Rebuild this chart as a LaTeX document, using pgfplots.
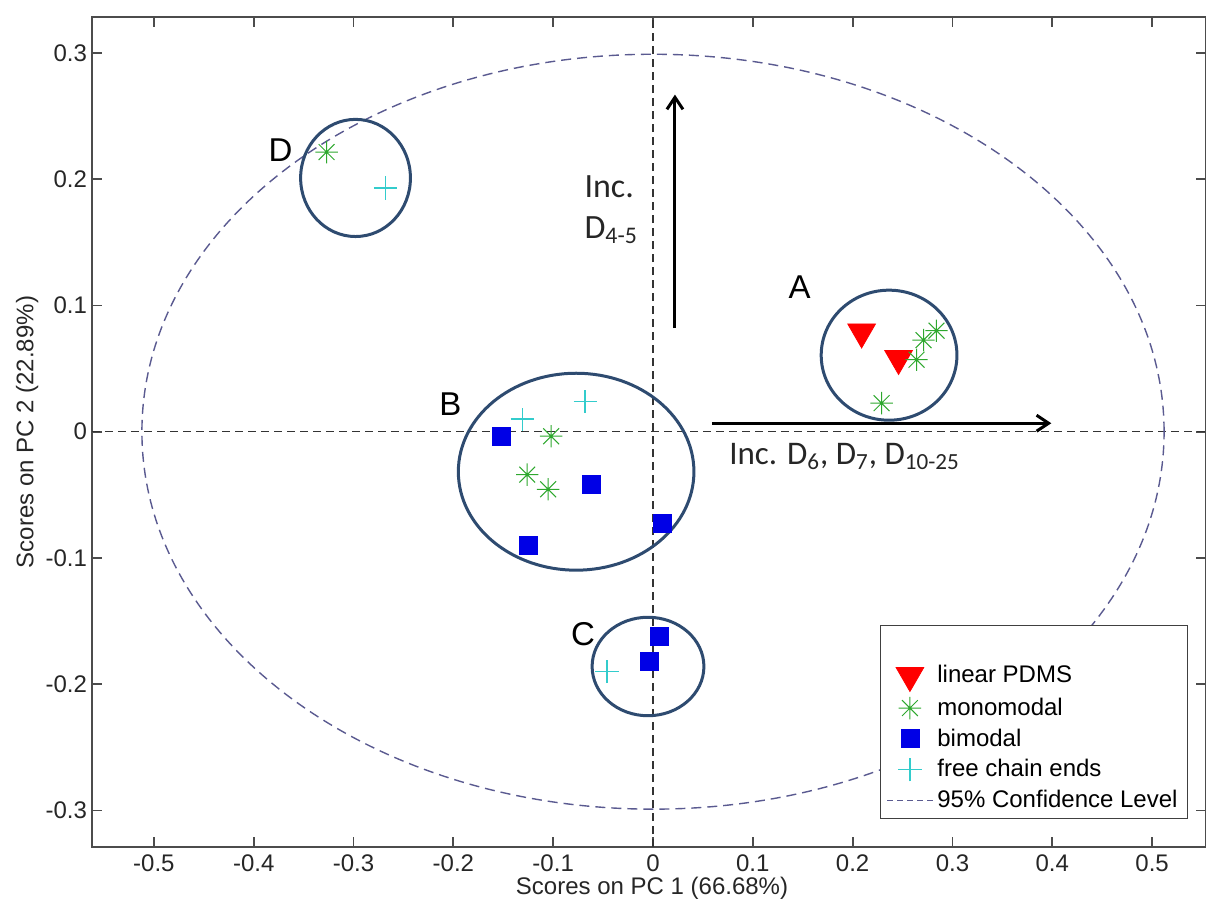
\documentclass[border=0pt]{standalone}
\usepackage{pgfplots}
\pgfplotsset{compat=1.18}
\usetikzlibrary{arrows.meta}
\usepackage{fontspec}
\setmainfont{Liberation Sans}
\newfontfamily\calibri{Carlito}
\definecolor{circ}{HTML}{2E4B70}
\definecolor{ell}{HTML}{5A5A90}
\definecolor{mgreen}{HTML}{2EA82E}
\definecolor{mcyan}{HTML}{33CCCC}
\definecolor{mblue}{HTML}{0000E6}
\pgfdeclareplotmark{mstar}{%
  \pgfpathmoveto{\pgfqpoint{-\pgfplotmarksize}{0pt}}\pgfpathlineto{\pgfqpoint{\pgfplotmarksize}{0pt}}%
  \pgfpathmoveto{\pgfqpoint{0pt}{-\pgfplotmarksize}}\pgfpathlineto{\pgfqpoint{0pt}{\pgfplotmarksize}}%
  \pgfpathmoveto{\pgfqpoint{-0.707\pgfplotmarksize}{-0.707\pgfplotmarksize}}\pgfpathlineto{\pgfqpoint{0.707\pgfplotmarksize}{0.707\pgfplotmarksize}}%
  \pgfpathmoveto{\pgfqpoint{-0.707\pgfplotmarksize}{0.707\pgfplotmarksize}}\pgfpathlineto{\pgfqpoint{0.707\pgfplotmarksize}{-0.707\pgfplotmarksize}}%
  \pgfusepathqstroke}
\pgfdeclareplotmark{mplus}{%
  \pgfpathmoveto{\pgfqpoint{-\pgfplotmarksize}{0pt}}\pgfpathlineto{\pgfqpoint{\pgfplotmarksize}{0pt}}%
  \pgfpathmoveto{\pgfqpoint{0pt}{-\pgfplotmarksize}}\pgfpathlineto{\pgfqpoint{0pt}{\pgfplotmarksize}}%
  \pgfusepathqstroke}
\begin{document}
\begin{tikzpicture}
\begin{axis}[name=ax, scale only axis, width=557pt, height=415pt,
  xmin=-0.562, xmax=0.554, ymin=-0.329, ymax=0.3285,
  xtick={-0.5,-0.4,-0.3,-0.2,-0.1,0,0.1,0.2,0.3,0.4,0.5},
  ytick={-0.3,-0.2,-0.1,0,0.1,0.2,0.3},
  tick align=inside, major tick length=5pt,
  axis line style={black!70, line width=0.9pt},
  tick style={black!70, line width=0.9pt},
  /pgf/number format/assume math mode=true,
  /pgf/number format/fixed,
  ticklabel style={font=\fontsize{12}{14}\selectfont, black!85},
  xticklabel style={inner sep=1pt, anchor=base, yshift=-12pt},
  yticklabel style={xshift=1pt},
  xlabel={Scores on PC 1 (66.68\%)},
  ylabel={Scores on PC 2 (22.89\%)},
  label style={font=\fontsize{12}{14}\selectfont, black!85},
  xlabel style={at={(axis description cs:0.5027,-0.0578)}, anchor=base, inner sep=0.5pt},
  ylabel style={at={(axis description cs:-0.0583,0.5)}, anchor=center},
  legend style={at={(axis description cs:0.9838,0.0337)}, anchor=south east,
    font=\fontsize{12}{14}\selectfont, draw=black!75, fill=white, row sep=1.2pt},
  legend cell align=left,
  legend image code/.code={\draw[mark repeat=2,mark phase=2,#1] plot coordinates {(0cm,0cm) (0.4cm,0cm) (0.8cm,0cm)};},
]
\draw[black!80, dash pattern=on 4pt off 2.5pt, line width=0.6pt] (axis cs:0,-0.329) -- (axis cs:0,0.3285);
\draw[black!80, dash pattern=on 4pt off 2.5pt, line width=0.6pt] (axis cs:-0.562,0) -- (axis cs:0.554,0);
\draw[ell, dash pattern=on 5pt off 3pt, line width=0.7pt] (axis cs:0,0) ellipse [x radius=0.512, y radius=0.299];
\draw[circ, line width=1.5pt] (axis cs:-0.298,0.201) ellipse [x radius=0.055, y radius=0.0464];
\draw[circ, line width=1.5pt] (axis cs:0.2365,0.0606) ellipse [x radius=0.068, y radius=0.0515];
\draw[circ, line width=1.5pt] (axis cs:-0.077,-0.0317) ellipse [x radius=0.118, y radius=0.078];
\draw[circ, line width=1.5pt] (axis cs:-0.005,-0.186) ellipse [x radius=0.056, y radius=0.039];
\draw[black, line width=1.5pt, -{Straight Barb[length=6pt,width=8pt]}] (axis cs:0.022,0.082) -- (axis cs:0.022,0.267);
\draw[black, line width=1.5pt, -{Straight Barb[length=6pt,width=8pt]}] (axis cs:0.059,0.0067) -- (axis cs:0.399,0.0067);
\node[font=\fontsize{16.5}{18}\selectfont] at (axis cs:-0.373,0.223) {D};
\node[font=\fontsize{16.5}{18}\selectfont] at (axis cs:0.147,0.1145) {A};
\node[font=\fontsize{16.5}{18}\selectfont] at (axis cs:-0.203,0.0218) {B};
\node[font=\fontsize{16.5}{18}\selectfont] at (axis cs:-0.070,-0.160) {C};
\node[anchor=base west, inner sep=0pt, font=\calibri\fontsize{17}{20}\selectfont, black!85] at (axis cs:-0.069,0.1858) {Inc.};
\node[anchor=base west, inner sep=0pt, font=\calibri\fontsize{17}{20}\selectfont, black!85] at (axis cs:-0.069,0.1533) {D\textsubscript{4-5}};
\node[anchor=base west, inner sep=0pt, font=\calibri\fontsize{16.5}{20}\selectfont, black!85] at (axis cs:0.076,-0.0258) {Inc. D\textsubscript{6}, D\textsubscript{7}, D\textsubscript{10-25}};
\addlegendimage{empty legend}\addlegendentry{\rule{0pt}{9pt}}
\addplot[only marks, mark=triangle*, mark size=8pt, color=red, mark options={rotate=180, draw=red, fill=red}] coordinates {(0.209,0.079) (0.246,0.058)};
\addlegendentry{linear PDMS}
\addplot[only marks, mark=mstar, mark size=5.6pt, color=mgreen, mark options={line width=0.5pt}] coordinates {(0.264,0.057) (0.271,0.0725) (0.284,0.080) (0.229,0.0226) (-0.102,-0.0036) (-0.126,-0.034) (-0.105,-0.0456) (-0.327,0.2215)};
\addlegendentry{monomodal}
\addplot[only marks, mark=square*, mark size=4.5pt, color=mblue, mark options={draw=mblue, fill=mblue}] coordinates {(-0.152,-0.0036) (-0.062,-0.042) (0.009,-0.073) (-0.125,-0.090) (0.006,-0.162) (-0.004,-0.182)};
\addlegendentry{bimodal}
\addplot[only marks, mark=mplus, mark size=5.8pt, color=mcyan, mark options={draw=mcyan, line width=0.7pt}] coordinates {(-0.131,0.0099) (-0.068,0.024) (-0.046,-0.190) (-0.268,0.193)};
\addlegendentry{free chain ends}
\addlegendimage{ell, dash pattern=on 3pt off 2pt, line width=0.7pt}
\addlegendentry{95\% Confidence Level}
\end{axis}
\pgfresetboundingbox
\path[use as bounding box] ([xshift=-46pt,yshift=-27.5pt]ax.south west) rectangle ([yshift=8.5pt]ax.north east);
\end{tikzpicture}
\end{document}
